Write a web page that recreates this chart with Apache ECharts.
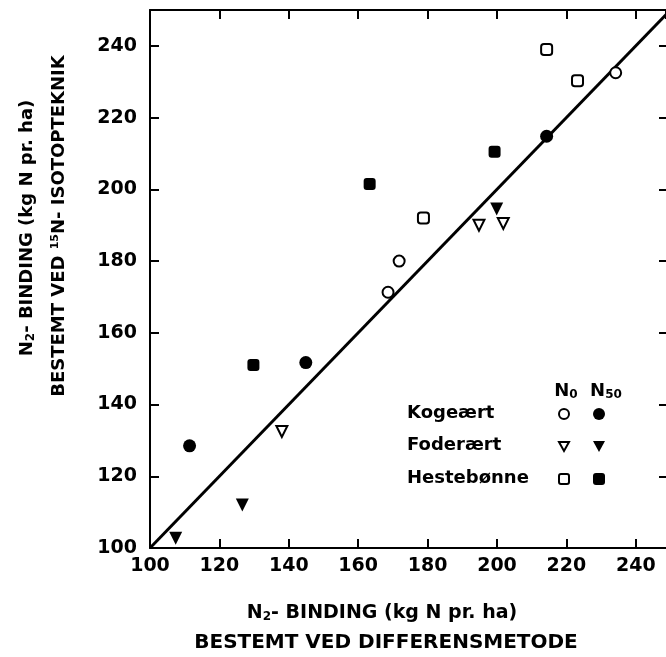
<!DOCTYPE html>
<html><head><meta charset="utf-8">
<script src="https://cdn.jsdelivr.net/npm/echarts@6/dist/echarts.min.js"></script>
<style>html,body{margin:0;padding:0;background:#fff}#c{width:666px;height:657px}</style>
</head><body><div id="c"></div>
<script>
// Data: [x (differensmetode), y (15N-isotopteknik)]
const kogeaertN0 = [[168.6, 171.3], [171.8, 180], [234.2, 232.5]];
const kogeaertN50 = [[111.4, 128.5], [144.9, 151.7], [214.3, 214.8]];
const foderaertN0 = [[138.0, 132.5], [194.8, 190], [201.8, 190.5]];
const foderaertN50 = [[107.4, 102.7], [126.6, 112], [199.9, 194.5]];
const hestebonneN0 = [[178.8, 192], [214.3, 239], [223.2, 230.3]];
const hestebonneN50 = [[129.8, 151], [163.3, 201.5], [199.3, 210.5]];
const oneToOneLine = [[100, 100], [250, 250]];
const xTicks = [100, 120, 140, 160, 180, 200, 220, 240];
const yTicks = [100, 120, 140, 160, 180, 200, 220, 240];
const legendRows = ['Kogeært', 'Foderært', 'Hestebønne'];

const FONT = 'DejaVu Sans';
const chart = echarts.init(document.getElementById('c'));
const tickStyle = { show: true, inside: true, length: 9, lineStyle: { color: '#000', width: 2 } };
const lineStyle = { show: true, onZero: false, lineStyle: { color: '#000', width: 2 } };
const lbl = { color: '#000', fontFamily: FONT, fontWeight: 'bold', fontSize: 19 };

function sc(name, data, symbol, filled, size, rotate) {
  return {
    type: 'scatter', name, data, symbol, symbolSize: size, symbolRotate: rotate || 0,
    itemStyle: { color: filled ? '#000' : '#fff', borderColor: '#000', borderWidth: filled ? 0 : 2, opacity: 1 },
    emphasis: { disabled: true },
    z: 5
  };
}

const rich = {
  sub: { fontFamily: FONT, fontWeight: 'bold', fontSize: 12, verticalAlign: 'bottom', padding: [8, 0, 0, 0], fill: '#000' },
  sup: { fontFamily: FONT, fontWeight: 'bold', fontSize: 11, verticalAlign: 'top', padding: [0, 0, 8, 0], fill: '#000' }
};
function txt(text, x, y, opts) {
  const size = (opts && opts.size) || 18;
  return Object.assign({
    type: 'text', x, y,
    style: Object.assign({ text, fill: '#000', font: 'bold ' + size + 'px "' + FONT + '"', align: 'center', verticalAlign: 'middle', rich }, opts && opts.style || {})
  }, opts && opts.el || {});
}

const legendSymX = [564, 599];
const legendY = [414, 446, 479];
const graphics = [
  txt('N{sub|2}- BINDING (kg N pr. ha)', 382, 613, { size: 19 }),
  txt('BESTEMT VED DIFFERENSMETODE', 386, 643, { size: 20 }),
  txt('N{sub|2}- BINDING (kg N pr. ha)', 27, 228, { el: { rotation: Math.PI / 2 } }),
  txt('BESTEMT VED {sup|15}N- ISOTOPTEKNIK', 59, 226, { el: { rotation: Math.PI / 2 } }),
  txt('N{sub|0}', 566, 391),
  txt('N{sub|50}', 606, 391),
];
legendRows.forEach((r, i) => graphics.push(txt(r, 407, legendY[i] - 1, { style: { align: 'left' } })));
// legend symbols
graphics.push({ type: 'circle', shape: { cx: legendSymX[0], cy: legendY[0], r: 5 }, style: { fill: '#fff', stroke: '#000', lineWidth: 2 } });
graphics.push({ type: 'circle', shape: { cx: legendSymX[1], cy: legendY[0], r: 6 }, style: { fill: '#000' } });
graphics.push({ type: 'polygon', shape: { points: [[legendSymX[0] - 5, legendY[1] - 4], [legendSymX[0] + 5, legendY[1] - 4], [legendSymX[0], legendY[1] + 5]] }, style: { fill: '#fff', stroke: '#000', lineWidth: 2 } });
graphics.push({ type: 'polygon', shape: { points: [[legendSymX[1] - 6, legendY[1] - 5], [legendSymX[1] + 6, legendY[1] - 5], [legendSymX[1], legendY[1] + 6]] }, style: { fill: '#000' } });
graphics.push({ type: 'rect', shape: { x: legendSymX[0] - 5, y: legendY[2] - 5, width: 10, height: 10, r: 2 }, style: { fill: '#fff', stroke: '#000', lineWidth: 2 } });
graphics.push({ type: 'rect', shape: { x: legendSymX[1] - 6, y: legendY[2] - 6, width: 12, height: 12, r: 3 }, style: { fill: '#000' } });

const X_MAX = 248.7; // plot is cut by the right edge of the picture
chart.setOption({
  animation: false,
  backgroundColor: '#fff',
  grid: { left: 150, top: 10, width: 516, height: 538, show: false },
  xAxis: [
    { type: 'value', min: 100, max: X_MAX, interval: 20, position: 'bottom', axisLine: lineStyle, axisTick: tickStyle, splitLine: { show: false },
      axisLabel: Object.assign({ margin: 9, showMaxLabel: false, formatter: v => xTicks.includes(v) ? String(v) : '' }, lbl) },
    { type: 'value', min: 100, max: X_MAX, interval: 20, position: 'top', axisLine: lineStyle, axisTick: tickStyle, splitLine: { show: false }, axisLabel: { show: false } }
  ],
  yAxis: [
    { type: 'value', min: 100, max: 250, interval: 20, position: 'left', axisLine: lineStyle, axisTick: tickStyle, splitLine: { show: false },
      axisLabel: Object.assign({ margin: 13, showMaxLabel: false, formatter: v => yTicks.includes(v) ? String(v) : '' }, lbl) },
    { type: 'value', min: 100, max: 250, interval: 20, position: 'right', axisLine: { show: false }, axisTick: Object.assign({}, tickStyle, { length: 7 }), splitLine: { show: false }, axisLabel: { show: false } }
  ],
  series: [
    { type: 'line', data: oneToOneLine, symbol: 'none', lineStyle: { color: '#000', width: 3 }, z: 3, clip: true, emphasis: { disabled: true } },
    sc('Kogeært N0', kogeaertN0, 'circle', false, 11),
    sc('Kogeært N50', kogeaertN50, 'circle', true, 13),
    sc('Foderært N0', foderaertN0, 'triangle', false, 11, 180),
    sc('Foderært N50', foderaertN50, 'triangle', true, 13, 180),
    sc('Hestebønne N0', hestebonneN0, 'roundRect', false, 11),
    sc('Hestebønne N50', hestebonneN50, 'roundRect', true, 12)
  ],
  graphic: graphics
});
</script></body></html>
